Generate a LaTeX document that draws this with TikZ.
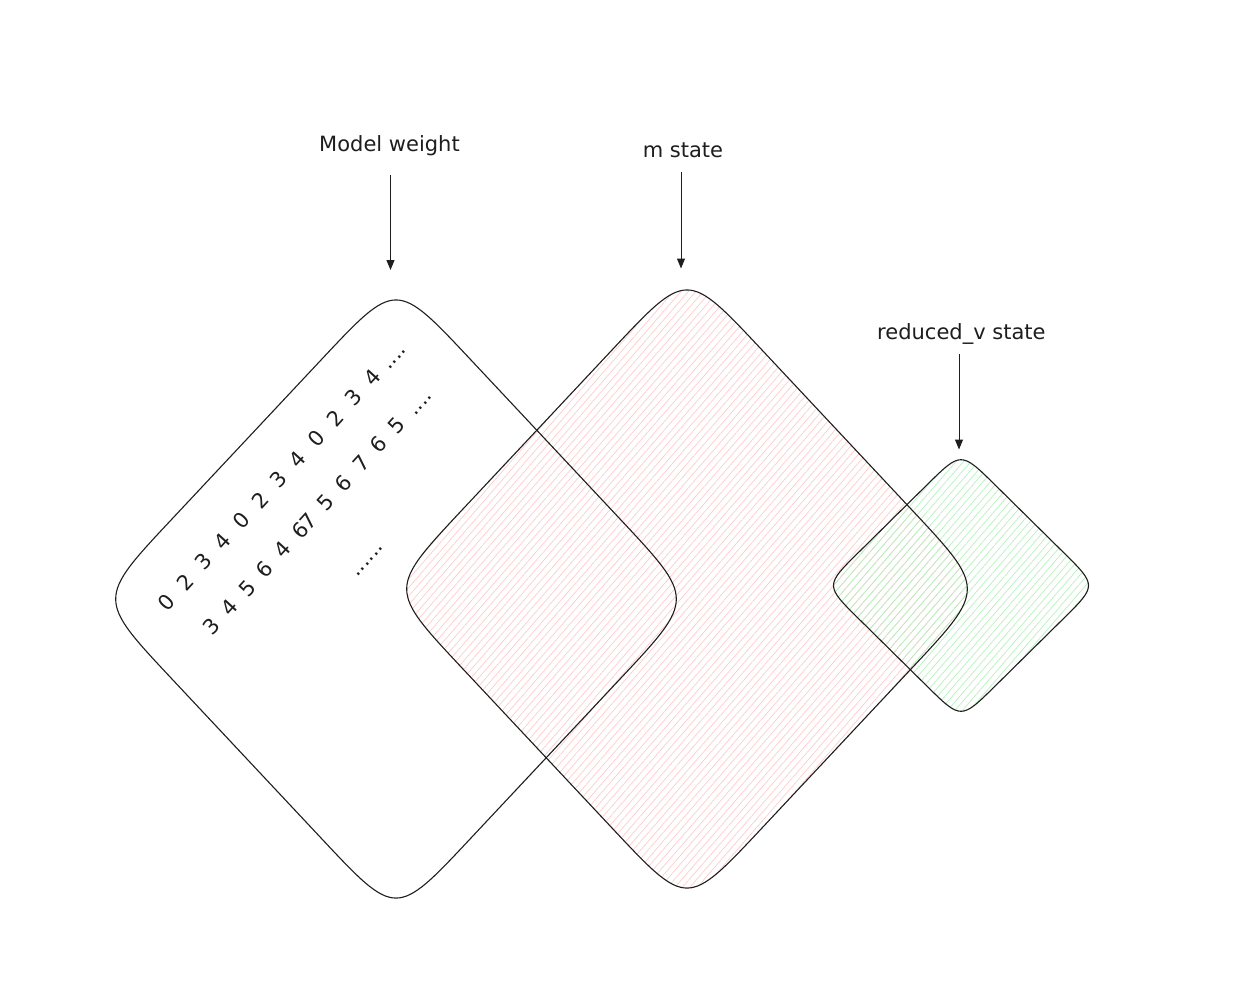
\documentclass[tikz,border=0pt]{standalone}
\usepackage{fontspec}
\setmainfont{DejaVu Sans}
\usetikzlibrary{patterns.meta,arrows.meta}
\definecolor{ink}{HTML}{1E1E1E}
\definecolor{hpink}{HTML}{FFC9C9}
\definecolor{hgreen}{HTML}{B2F2BB}
\begin{document}
\begin{tikzpicture}[x=1pt,y=-1pt,
  rdia/.style n args={4}{insert path={
    ({#1+0.25*#3},{#2-0.75*#4}) -- ({#1+0.75*#3},{#2-0.25*#4})
    .. controls ({#1+#3},{#2}) and ({#1+#3},{#2}) .. ({#1+0.75*#3},{#2+0.25*#4})
    -- ({#1+0.25*#3},{#2+0.75*#4})
    .. controls ({#1},{#2+#4}) and ({#1},{#2+#4}) .. ({#1-0.25*#3},{#2+0.75*#4})
    -- ({#1-0.75*#3},{#2+0.25*#4})
    .. controls ({#1-#3},{#2}) and ({#1-#3},{#2}) .. ({#1-0.75*#3},{#2-0.25*#4})
    -- ({#1-0.25*#3},{#2-0.75*#4})
    .. controls ({#1},{#2-#4}) and ({#1},{#2-#4}) .. cycle}},
  outline/.style={draw=ink,line width=1.1pt},
  hatchpink/.style={pattern={Lines[angle=49,distance=5.6pt,line width=0.65pt]},pattern color=hpink},
  hatchgreen/.style={pattern={Lines[angle=49,distance=5.6pt,line width=0.65pt]},pattern color=hgreen},
  lbl/.style={font=\fontsize{21}{25}\selectfont,text=ink,inner sep=0pt,anchor=base},
  arr/.style={draw=ink,line width=1pt,-{Triangle[length=10pt,width=8pt]}},
  digits/.style={font=\fontsize{21}{25}\selectfont,text=ink,inner sep=0pt,rotate=47.5}
]
\fill[white] (0,0) rectangle (1248,998);
\path[use as bounding box] (0,0) rectangle (1248,998);

% hatched fills
\path[hatchpink, rdia={687}{589}{299}{319}];
\path[hatchgreen, rdia={961}{585.5}{136}{134.2}];

% outlines
\path[outline, rdia={396}{599}{299}{319}];
\path[outline, rdia={687}{589}{299}{319}];
\path[outline, rdia={961}{585.5}{136}{134.2}];

% labels
\node[lbl] (lblw) at (389.5,151.7) {Model weight};
\node[lbl] (lblm) at (683,157.3) {m state};
\node[lbl] (lblv) at (961.4,339.3) {reduced\_v state};

% arrows
\coordinate (a1s) at (390.5,175);
\coordinate (a1e) at (390.5,270);
\coordinate (a2s) at (681,172);
\coordinate (a2e) at (681,268.5);
\coordinate (a3s) at (959,354);
\coordinate (a3e) at (959,449.5);
\draw[arr] (a1s) -- (a1e);
\draw[arr] (a2s) -- (a2e);
\draw[arr] (a3s) -- (a3e);

% rotated numbers
\node[digits,anchor=west] (row1) at (161.5,607.6)
  {\spaceskip=14.4pt\relax 0 2 3 4 0 2 3 4 0 2 3 4\hspace{10pt}....};
\node[digits,anchor=west] (row2) at (207.2,631.9)
  {\spaceskip=12.8pt\relax 3 4 5 6 4 6\kern-1.6pt 7 5 6 7 6 5 ....};
\node[digits,anchor=base west] (row3) at (357.2,577.5) {......};
\end{tikzpicture}
\end{document}
